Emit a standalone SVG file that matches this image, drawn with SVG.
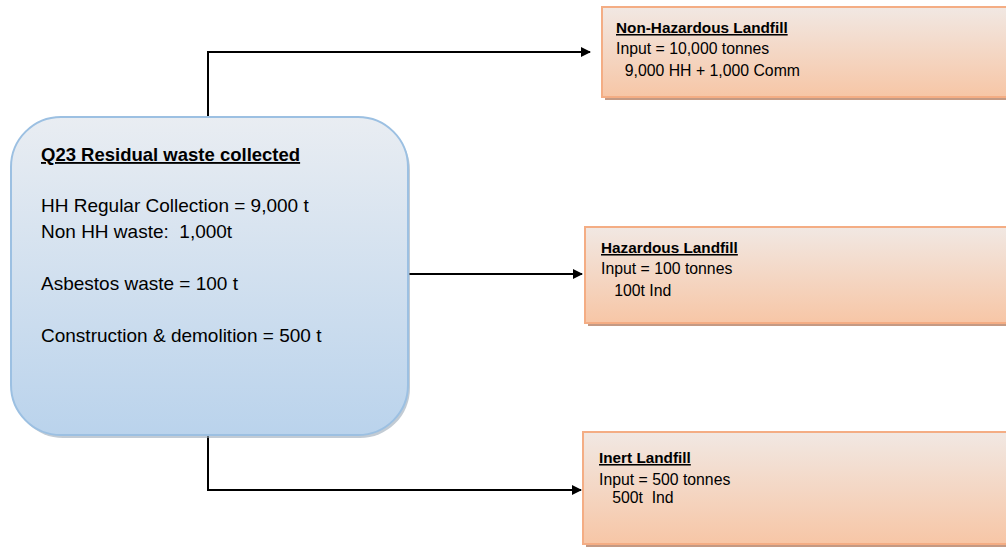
<svg xmlns="http://www.w3.org/2000/svg" width="1006" height="548" viewBox="0 0 1006 548">
<style>
text{font-family:"Liberation Sans",Arial,sans-serif;fill:#000;white-space:pre}
.m{font-size:19px}
.mt{font-size:18.5px;font-weight:bold;text-decoration:underline}
.s{font-size:15.8px}
.st{font-size:15.3px;font-weight:bold;text-decoration:underline}
.conn{fill:none;stroke:#000;stroke-width:2}
.ob{fill:url(#og);stroke:#f4ad84;stroke-width:2}
.osh{fill:#c49a84}
</style>
<defs>
<linearGradient id="bg" x1="0" y1="0" x2="0" y2="1">
<stop offset="0" stop-color="#e9edf2"/>
<stop offset="1" stop-color="#bad3ec"/>
</linearGradient>
<linearGradient id="og" x1="0" y1="0" x2="0" y2="1">
<stop offset="0" stop-color="#f1e8e3"/>
<stop offset="1" stop-color="#f7c6a6"/>
</linearGradient>
<marker id="arr" markerWidth="10" markerHeight="10" refX="9" refY="5" orient="auto" markerUnits="userSpaceOnUse">
<path d="M0,0 L10,5 L0,10 z" fill="#000"/>
</marker>
</defs>
<g id="connectors">
<path class="conn" d="M208,117 V52 H590" marker-end="url(#arr)"/>
<path class="conn" d="M408,274 H582" marker-end="url(#arr)"/>
<path class="conn" d="M208,435 V490 H581" marker-end="url(#arr)"/>
</g>
<g id="residual">
<rect x="13" y="120" width="397" height="318" rx="50" fill="#9aa8b8" opacity="0.6"/>
<rect x="11" y="117" width="397" height="318" rx="50" fill="url(#bg)" stroke="#9cc0e2" stroke-width="2"/>
<text class="mt" x="41" y="161">Q23 Residual waste collected</text>
<text class="m" x="41" y="212">HH Regular Collection = 9,000 t</text>
<text class="m" x="41" y="238">Non HH waste:  1,000t</text>
<text class="m" x="41" y="290">Asbestos waste = 100 t</text>
<text class="m" x="41" y="342">Construction &amp; demolition = 500 t</text>
</g>
<g id="nonhaz">
<rect class="osh" x="605" y="10" width="410" height="90"/>
<rect class="ob" x="602" y="7" width="410" height="90"/>
<text class="st" x="616" y="33">Non-Hazardous Landfill</text>
<text class="s" x="616" y="54">Input = 10,000 tonnes</text>
<text class="s" x="616" y="76">  9,000 HH + 1,000 Comm</text>
</g>
<g id="haz">
<rect class="osh" x="588" y="230" width="430" height="96"/>
<rect class="ob" x="585" y="227" width="430" height="96"/>
<text class="st" x="601" y="253">Hazardous Landfill</text>
<text class="s" x="601" y="274">Input = 100 tonnes</text>
<text class="s" x="601" y="296">   100t Ind</text>
</g>
<g id="inert">
<rect class="osh" x="586" y="435" width="430" height="112"/>
<rect class="ob" x="583" y="432" width="430" height="112"/>
<text class="st" x="599" y="463">Inert Landfill</text>
<text class="s" x="599" y="485">Input = 500 tonnes</text>
<text class="s" x="599" y="503">   500t  Ind</text>
</g>
</svg>
